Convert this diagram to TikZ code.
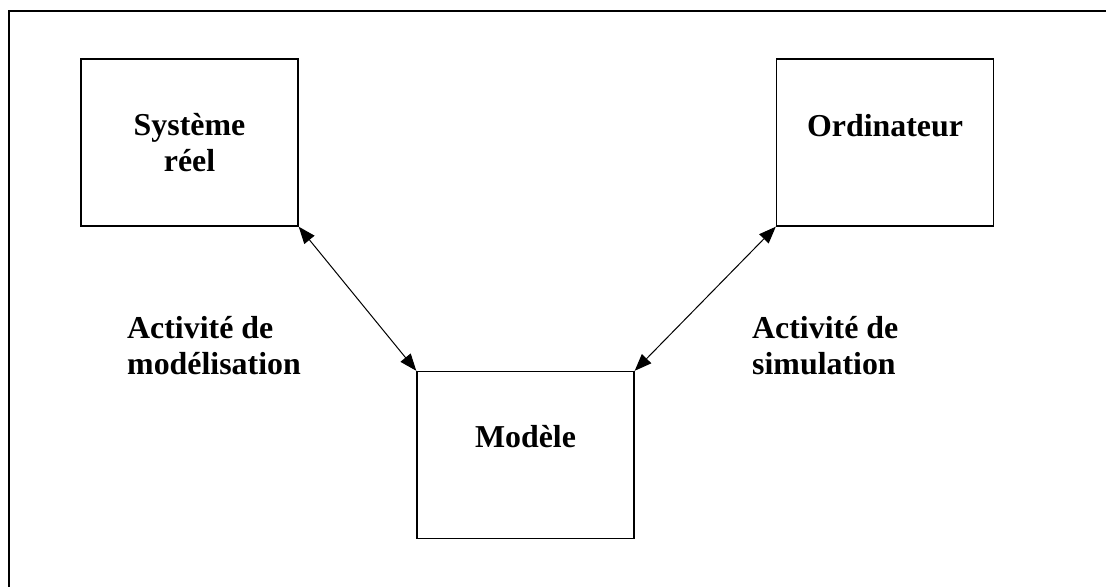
\documentclass[tikz,border=0pt]{standalone}
\usepackage{fontspec}
\setmainfont{Liberation Serif}
\usetikzlibrary{arrows.meta}
\begin{document}
\begin{tikzpicture}[x=1bp,y=-1bp,
  box/.style={draw, line width=1.4bp, minimum width=217bp, minimum height=167bp, inner sep=0pt},
  boxtext/.style={font=\fontsize{32}{36}\selectfont\bfseries, align=center, inner sep=0pt},
  actlabel/.style={font=\fontsize{32}{36}\selectfont\bfseries, align=left, inner sep=0pt},
  link/.style={line width=1bp, {Triangle[length=17bp,width=13bp]}-{Triangle[length=17bp,width=13bp]}}]
  \useasboundingbox (0,0) rectangle (1106,587);
  % open frame: top and left edges only
  \draw[line width=2bp] (9,587) -- (9,11) -- (1106,11);

  % the three blocks
  \node[box] (sys) at (189.5,142.5) {};
  \node[box] (mod) at (525.5,455) {};
  \node[box] (ord) at (885,142.5) {};

  % captions (base anchor sits on the last line)
  \node[boxtext, anchor=base] (systxt) at ([yshift=-113bp]sys.north) {Système\\réel};
  \node[boxtext, anchor=base] (modtxt) at ([yshift=-77bp]mod.north) {Modèle};
  \node[boxtext, anchor=base] (ordtxt) at ([yshift=-78bp]ord.north) {Ordinateur};

  % activities
  \draw[link] (sys.south east) -- (mod.north west);
  \draw[link] (mod.north east) -- (ord.south west);

  \node[actlabel, anchor=base west] (modl) at (127,374) {Activité de\\modélisation};
  \node[actlabel, anchor=base west] (siml) at (752,374) {Activité de\\simulation};
\end{tikzpicture}
\end{document}
